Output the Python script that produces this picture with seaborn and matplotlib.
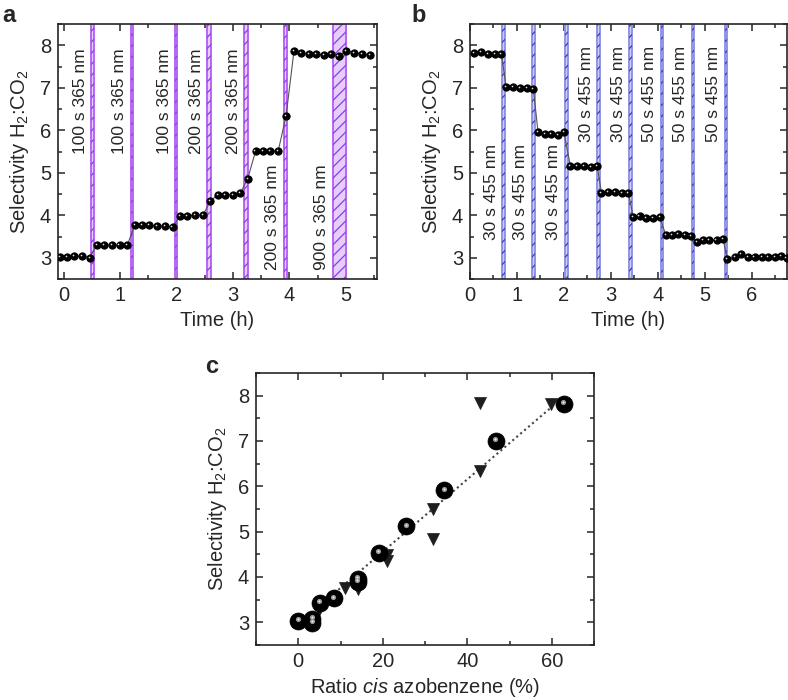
import numpy as np
import pandas as pd
import seaborn as sns
import matplotlib.pyplot as plt
from matplotlib.ticker import MultipleLocator
from matplotlib.transforms import ScaledTranslation

# ---- panel a: 365 nm steps (time in h, selectivity H2:CO2)
a_time = [-0.07, 0.06, 0.19, 0.32, 0.46,
          0.59, 0.72, 0.85, 0.99, 1.13,
          1.26, 1.39, 1.52, 1.66, 1.79, 1.93,
          2.06, 2.19, 2.33, 2.47, 2.60,
          2.73, 2.86, 3.00, 3.13, 3.26,
          3.40, 3.53, 3.66, 3.80, 3.94,
          4.08, 4.20, 4.34, 4.47, 4.61, 4.74, 4.87, 5.01, 5.14, 5.28, 5.42]
a_sel = [3.02, 3.02, 3.03, 3.05, 3.00,
         3.30, 3.30, 3.30, 3.30, 3.30,
         3.78, 3.77, 3.76, 3.75, 3.75, 3.72,
         3.99, 3.99, 4.00, 4.01, 4.34,
         4.48, 4.48, 4.48, 4.52, 4.86,
         5.51, 5.51, 5.51, 5.51, 6.34,
         7.87, 7.82, 7.80, 7.79, 7.78, 7.80, 7.74, 7.87, 7.82, 7.80, 7.76]
a_band_start = [0.49, 1.19, 1.98, 2.54, 3.20, 3.90, 4.77]
a_band_end = [0.54, 1.22, 2.01, 2.61, 3.26, 3.96, 5.00]
a_labels = ['100 s 365 nm', '100 s 365 nm', '100 s 365 nm', '200 s 365 nm',
            '200 s 365 nm', '200 s 365 nm', '900 s 365 nm']
a_label_top = [True, True, True, True, True, False, False]

# ---- panel b: 455 nm steps
b_time = [0.08, 0.23, 0.38, 0.53, 0.67,
          0.77, 0.92, 1.07, 1.21, 1.35,
          1.45, 1.59, 1.73, 1.88, 2.00,
          2.14, 2.28, 2.43, 2.57, 2.71,
          2.80, 2.94, 3.09, 3.23, 3.37,
          3.48, 3.61, 3.75, 3.89, 4.04,
          4.17, 4.31, 4.44, 4.58, 4.71,
          4.83, 4.96, 5.10, 5.25, 5.39,
          5.48, 5.64, 5.78, 5.92, 6.06, 6.21, 6.35, 6.49, 6.63, 6.74]
b_sel = [7.82, 7.85, 7.80, 7.80, 7.80,
         7.02, 7.01, 7.00, 6.99, 6.97,
         5.95, 5.92, 5.92, 5.89, 5.96,
         5.15, 5.15, 5.15, 5.14, 5.15,
         4.52, 4.54, 4.54, 4.53, 4.53,
         3.95, 3.98, 3.94, 3.94, 3.95,
         3.54, 3.54, 3.56, 3.54, 3.52,
         3.38, 3.42, 3.42, 3.42, 3.43,
         2.97, 3.01, 3.09, 3.02, 3.02, 3.02, 3.02, 3.02, 3.04, 3.00]
b_band_start = [0.69, 1.32, 2.02, 2.71, 3.39, 4.06, 4.72, 5.42]
b_band_end = [0.74, 1.38, 2.08, 2.77, 3.44, 4.12, 4.78, 5.47]
b_labels = ['30 s 455 nm', '30 s 455 nm', '30 s 455 nm', '30 s 455 nm',
            '30 s 455 nm', '50 s 455 nm', '50 s 455 nm', '50 s 455 nm']
b_label_top = [False, False, False, True, True, True, True, True]

# ---- panel c: selectivity vs cis ratio
c_circ_ratio = [0.0, 3.3, 3.3, 5.1, 8.5, 14.1, 14.1, 19.0, 25.6, 34.6, 46.7, 62.9]
c_circ_sel = [3.03, 2.99, 3.08, 3.43, 3.53, 3.96, 3.90, 4.53, 5.12, 5.91, 7.00, 7.82]
c_tri_ratio = [4.8, 11.0, 14.1, 21.0, 21.0, 32.0, 32.0, 43.0, 43.0, 59.8]
c_tri_sel = [3.27, 3.76, 3.74, 4.48, 4.35, 5.49, 4.84, 7.84, 6.33, 7.82]
c_fit_ratio = [2.0, 60.0]
c_fit_sel = [3.12, 7.75]

sns.set_style('ticks', {'xtick.direction': 'in', 'ytick.direction': 'in'})
plt.rcParams['font.family'] = ['Liberation Sans', 'DejaVu Sans']
plt.rcParams['mathtext.fontset'] = 'custom'
plt.rcParams['mathtext.rm'] = 'Liberation Sans'
plt.rcParams['mathtext.it'] = 'Liberation Sans:italic'
plt.rcParams['mathtext.bf'] = 'Liberation Sans:bold'
plt.rcParams['hatch.linewidth'] = 0.9

FS = 14.5
fig = plt.figure(figsize=(7.88, 7.0), dpi=100)
ax_a = fig.add_axes([0.0736, 0.6014, 0.4048, 0.3643])
ax_b = fig.add_axes([0.5964, 0.6014, 0.4023, 0.3643])
ax_c = fig.add_axes([0.3249, 0.0786, 0.4289, 0.3886])


def style_axes(ax, xmajor, xminor):
    ax.xaxis.set_major_locator(MultipleLocator(xmajor))
    ax.xaxis.set_minor_locator(MultipleLocator(xminor))
    ax.yaxis.set_major_locator(MultipleLocator(1))
    ax.yaxis.set_minor_locator(MultipleLocator(0.5))
    ax.tick_params(which='both', direction='in', top=True, right=True,
                   labelsize=FS, width=1.1, pad=5)
    ax.tick_params(which='major', length=5)
    ax.tick_params(which='minor', length=3)
    for s in ax.spines.values():
        s.set_linewidth(1.2)
    ax.set_ylim(2.5, 8.5)
    ax.set_ylabel('Selectivity H$_2$:CO$_2$', fontsize=FS, labelpad=6)


def time_panel(ax, t, sel, starts, ends, labels, tops, fc, ec, hc, ytop, ybot):
    for x0, x1, lab, top in zip(starts, ends, labels, tops):
        ax.axvspan(x0, x1, facecolor=fc, edgecolor=ec, lw=1.4, zorder=1)
        ax.axvspan(x0, x1, facecolor='none', edgecolor=hc, lw=0, hatch='///', zorder=1)
        ax.annotate(lab, xy=(x0, ytop if top else ybot), xytext=(-2.5, 0),
                    textcoords='offset points', rotation=90, ha='right',
                    va='top' if top else 'bottom', fontsize=12.5)
    df = pd.DataFrame({'t': t, 'sel': sel})
    sns.lineplot(data=df, x='t', y='sel', ax=ax, color='#555555', lw=0.8,
                 marker='o', markersize=5.2, markerfacecolor='black',
                 markeredgecolor='black', estimator=None, sort=False, zorder=3)
    hl = ax.transData + ScaledTranslation(-0.8 / 72, 0.8 / 72, fig.dpi_scale_trans)
    ax.scatter(t, sel, s=1.5, color='#dddddd', transform=hl, zorder=4, lw=0)
    ax.set_xlabel('Time (h)', fontsize=FS)


time_panel(ax_a, a_time, a_sel, a_band_start, a_band_end, a_labels, a_label_top,
           '#e6cdfb', '#b866f6', '#8a3fe2', 7.93, 2.71)
ax_a.set_xlim(-0.1, 5.55)
style_axes(ax_a, 1, 0.5)

time_panel(ax_b, b_time, b_sel, b_band_start, b_band_end, b_labels, b_label_top,
           '#cdcdf5', '#9393e6', '#3a3ac8', 7.98, 3.42)
ax_b.set_xlim(0, 6.75)
style_axes(ax_b, 1, 0.5)

# panel c
sns.lineplot(x=c_fit_ratio, y=c_fit_sel, ax=ax_c, color='#444444', lw=1.5,
             linestyle=(0, (1, 1.5)), zorder=2)
sns.scatterplot(x=c_tri_ratio, y=c_tri_sel, ax=ax_c, marker='v', s=75,
                color='#1e1e1e', edgecolor='#1e1e1e', linewidth=0.5, zorder=3)
sns.scatterplot(x=c_circ_ratio, y=c_circ_sel, ax=ax_c, marker='o', s=150,
                color='black', edgecolor='black', linewidth=0.5, zorder=4)
hl_c = ax_c.transData + ScaledTranslation(-0.5 / 72, 1.2 / 72, fig.dpi_scale_trans)
ax_c.scatter(c_circ_ratio, c_circ_sel, s=14, color='#9a9a9a', transform=hl_c,
             zorder=5, lw=0)
ax_c.scatter(c_circ_ratio, c_circ_sel, s=2, color='#f0f0f0', transform=hl_c,
             zorder=6, lw=0)
ax_c.set_xlim(-10, 70)
style_axes(ax_c, 20, 10)
ax_c.set_xlabel('Ratio $\\it{cis}$ azobenzene (%)', fontsize=FS)

fig.text(0.003, 1 - 22 / 700, 'a', fontsize=17, fontweight='bold', va='baseline')
fig.text(411 / 788, 1 - 22 / 700, 'b', fontsize=17, fontweight='bold', va='baseline')
fig.text(205 / 788, 1 - 373 / 700, 'c', fontsize=17, fontweight='bold', va='baseline')

fig.savefig('out.png', dpi=100)
